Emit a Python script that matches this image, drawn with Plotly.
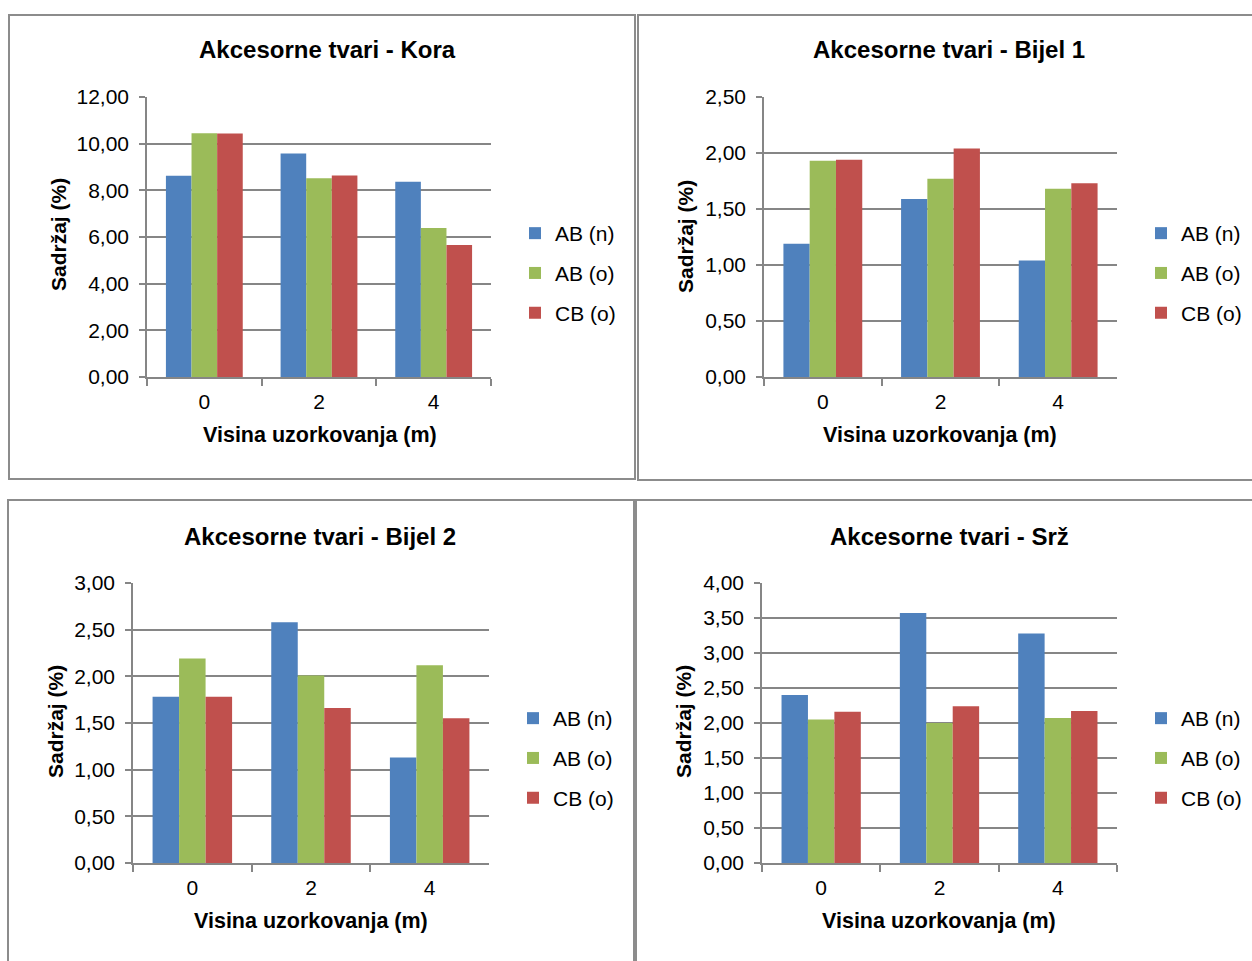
import plotly.graph_objects as go

# Sampling heights (m) and series names
heights = ["0", "2", "4"]
series_names = ["AB (n)", "AB (o)", "CB (o)"]
series_colors = ["#4F81BD", "#9BBB59", "#C0504D"]

# Accessory substances content (%) per wood zone
kora_ab_n = [8.62, 9.58, 8.37]
kora_ab_o = [10.45, 8.52, 6.39]
kora_cb_o = [10.44, 8.64, 5.66]

bijel1_ab_n = [1.19, 1.59, 1.04]
bijel1_ab_o = [1.93, 1.77, 1.68]
bijel1_cb_o = [1.94, 2.04, 1.73]

bijel2_ab_n = [1.78, 2.58, 1.13]
bijel2_ab_o = [2.19, 2.01, 2.12]
bijel2_cb_o = [1.78, 1.66, 1.55]

srz_ab_n = [2.40, 3.57, 3.28]
srz_ab_o = [2.05, 2.00, 2.07]
srz_cb_o = [2.16, 2.24, 2.17]

titles = ["Akcesorne tvari - Kora", "Akcesorne tvari - Bijel 1",
          "Akcesorne tvari - Bijel 2", "Akcesorne tvari - Srž"]
y_max = [12, 2.5, 3, 4]
y_step = [2, 0.5, 0.5, 0.5]
x_title = "Visina uzorkovanja (m)"
y_title = "Sadržaj (%)"

panels_data = [
    [kora_ab_n, kora_ab_o, kora_cb_o],
    [bijel1_ab_n, bijel1_ab_o, bijel1_cb_o],
    [bijel2_ab_n, bijel2_ab_o, bijel2_cb_o],
    [srz_ab_n, srz_ab_o, srz_cb_o],
]

W, H = 1252, 961
FONT = "Liberation Sans, Arial, sans-serif"
GRID = "#868686"


def px(x):
    return x / W


def py(y):
    return 1 - y / H


# plot areas in pixel coordinates: (left, right, top, bottom)
plot_boxes = [
    (147, 491, 97, 377),
    (764, 1117, 97, 377),
    (133, 489, 583, 863),
    (762, 1117, 583, 863),
]
# panel frames: (x0, y0, x1, y1)
frames = [
    (9, 15, 635, 479),
    (638, 15, 1262, 480),
    (8, 500, 634, 975),
    (636, 500, 1262, 975),
]
title_pos = [(327, 50), (949, 50), (320, 536), (949, 536)]
xtitle_pos = [(320, 435), (940, 435), (311, 921), (939, 921)]
ytitle_pos = [(59, 235), (685, 237), (55, 722), (683, 722)]
legend_pos = [(515, 213), (1141, 213), (513, 698), (1141, 698)]

fig = go.Figure()
layout = dict(
    width=W, height=H,
    margin=dict(l=0, r=0, t=0, b=0, pad=0, autoexpand=False),
    paper_bgcolor="white", plot_bgcolor="white",
    barmode="group", bargap=0.33, bargroupgap=0,
    separators=", ",
    font=dict(family=FONT, size=21, color="#000000"),
    showlegend=True,
)

annotations = []
shapes = []

for i in range(4):
    n = i + 1
    sfx = "" if n == 1 else str(n)
    left, right, top, bottom = plot_boxes[i]
    leg_name = "legend" if n == 1 else f"legend{n}"

    for s in range(3):
        fig.add_trace(go.Bar(
            x=heights, y=panels_data[i][s], name=series_names[s],
            marker=dict(color=series_colors[s], line=dict(width=0)),
            xaxis=f"x{sfx}", yaxis=f"y{sfx}",
            legend=leg_name, legendgroup=f"g{n}{s}",
        ))

    layout[f"xaxis{sfx}"] = dict(
        domain=[px(left), px(right)], anchor=f"y{sfx}",
        type="category", tickson="boundaries",
        ticks="outside", ticklen=7, tickwidth=1.5, tickcolor=GRID,
        showline=True, linecolor=GRID, linewidth=1.5,
        showgrid=False, ticklabelstandoff=5,
        tickfont=dict(size=21, family=FONT, color="#000"),
        automargin=False, fixedrange=True,
    )
    layout[f"yaxis{sfx}"] = dict(
        domain=[py(bottom), py(top)], anchor=f"x{sfx}",
        range=[0, y_max[i]], dtick=y_step[i], tick0=0, tickformat=".2f",
        ticks="outside", ticklen=6, tickwidth=1.5, tickcolor=GRID,
        showline=True, linecolor=GRID, linewidth=1.5,
        showgrid=True, gridcolor=GRID, gridwidth=1.5,
        zeroline=False, ticklabelstandoff=6,
        tickfont=dict(size=21, family=FONT, color="#000"),
        automargin=False, fixedrange=True,
    )

    lx, ly = legend_pos[i]
    layout[leg_name] = dict(
        x=px(lx), y=py(ly), xanchor="left", yanchor="top",
        xref="paper", yref="paper",
        bgcolor="rgba(0,0,0,0)", borderwidth=0,
        font=dict(size=21, family=FONT, color="#000"),
        tracegroupgap=9.5, itemclick=False, itemdoubleclick=False,
    )

    tx, ty = title_pos[i]
    annotations.append(dict(
        text=f"<b>{titles[i]}</b>", x=px(tx), y=py(ty),
        xref="paper", yref="paper", xanchor="center", yanchor="middle",
        showarrow=False, font=dict(size=24, family=FONT, color="#000"),
    ))
    ax, ay = xtitle_pos[i]
    annotations.append(dict(
        text=f"<b>{x_title}</b>", x=px(ax), y=py(ay),
        xref="paper", yref="paper", xanchor="center", yanchor="middle",
        showarrow=False, font=dict(size=21.5, family=FONT, color="#000"),
    ))
    yx, yy = ytitle_pos[i]
    annotations.append(dict(
        text=f"<b>{y_title}</b>", x=px(yx), y=py(yy), textangle=-90,
        xref="paper", yref="paper", xanchor="center", yanchor="middle",
        showarrow=False, font=dict(size=21, family=FONT, color="#000"),
    ))

    fx0, fy0, fx1, fy1 = frames[i]
    shapes.append(dict(
        type="rect", xref="paper", yref="paper",
        x0=px(fx0), y0=py(fy0), x1=px(fx1), y1=py(fy1),
        line=dict(color="#8C8C8C", width=2), fillcolor="rgba(0,0,0,0)",
        layer="below",
    ))

layout["annotations"] = annotations
layout["shapes"] = shapes
fig.update_layout(**layout)

fig.write_html("out.html")
